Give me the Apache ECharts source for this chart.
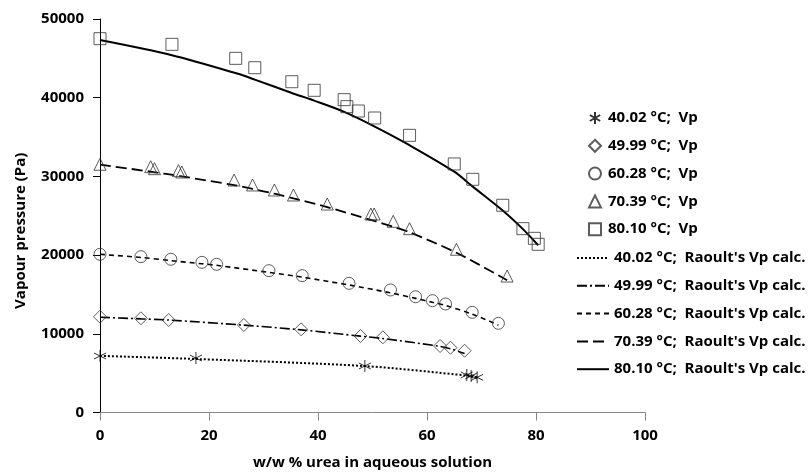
<!DOCTYPE html>
<html>
<head>
<meta charset="utf-8">
<script src="https://cdn.jsdelivr.net/npm/echarts@6/dist/echarts.min.js"></script>
<style>html,body{margin:0;padding:0;background:#fff}#c{width:809px;height:472px}</style>
</head>
<body>
<div id="c"></div>
<script>
// ---- data ----
const xTicks = [0, 20, 40, 60, 80, 100];
const yTicks = [0, 10000, 20000, 30000, 40000, 50000];

const vp40x = [0, 17.6, 48.6, 67.3, 68.1, 69.2];
const vp40y = [7180, 6920, 5910, 4770, 4640, 4470];
const vp50x = [0, 7.5, 12.6, 26.4, 36.9, 47.8, 51.9, 62.4, 64.3, 66.9];
const vp50y = [12170, 11970, 11750, 11120, 10570, 9720, 9550, 8450, 8230, 7850];
const vp60x = [0, 7.5, 13.0, 18.7, 21.4, 31.0, 37.1, 45.7, 53.3, 57.9, 61.0, 63.4, 68.3, 73.1];
const vp60y = [20100, 19800, 19470, 19080, 18830, 18020, 17390, 16410, 15570, 14710, 14210, 13790, 12730, 11330];
const vp70x = [0, 9.3, 10.0, 14.4, 15.0, 24.6, 28.0, 32.0, 35.5, 41.7, 49.7, 50.3, 53.8, 56.8, 65.4, 74.7];
const vp70y = [31540, 31230, 30980, 30730, 30560, 29540, 28910, 28270, 27640, 26490, 25220, 25220, 24290, 23360, 20740, 17340];
const vp80x = [0, 13.2, 24.9, 28.4, 35.2, 39.3, 44.8, 45.3, 47.4, 50.4, 56.8, 65.0, 68.4, 73.9, 77.6, 79.7, 80.4];
const vp80y = [47500, 46780, 45000, 43810, 42030, 40940, 39750, 38860, 38310, 37420, 35220, 31580, 29630, 26330, 23360, 22130, 21370];

const calc40x = [0, 17.6, 48.6, 67.3, 68.1, 69.2];
const calc40y = [7200, 6800, 5900, 4700, 4600, 4450];
const calc50x = [0, 7.5, 12.6, 26.4, 36.9, 47.8, 51.9, 62.4, 64.3, 66.9];
const calc50y = [12100, 11900, 11750, 11100, 10500, 9700, 9400, 8400, 8100, 7500];
const calc60x = [0, 7.5, 13.0, 18.7, 21.4, 31.0, 37.1, 45.7, 53.3, 57.9, 61.0, 63.4, 68.3, 73.1];
const calc60y = [20100, 19700, 19300, 18900, 18700, 17800, 17200, 16200, 15200, 14500, 14000, 13600, 12500, 11100];
const calc70x = [0, 9.3, 15.0, 24.6, 28.0, 32.0, 35.5, 41.7, 50.0, 53.8, 56.8, 65.4, 74.7];
const calc70y = [31500, 30600, 30000, 28900, 28400, 27800, 27200, 26100, 24400, 23600, 22900, 20300, 16800];
const calc80x = [0, 13.2, 25.0, 28.4, 35.2, 39.4, 44.8, 50.5, 56.7, 65.0, 68.4, 74.0, 77.6, 80.4];
const calc80y = [47330, 45400, 43100, 42300, 40600, 39600, 38200, 36300, 34000, 30600, 28700, 25600, 23300, 21250];

const scatterNames = ['40.02 °C;  Vp', '49.99 °C;  Vp', '60.28 °C;  Vp', '70.39 °C;  Vp', '80.10 °C;  Vp'];
const lineNames = ["40.02 °C;  Raoult's Vp calc.", "49.99 °C;  Raoult's Vp calc.", "60.28 °C;  Raoult's Vp calc.", "70.39 °C;  Raoult's Vp calc.", "80.10 °C;  Raoult's Vp calc."];

const zip = (xs, ys) => xs.map((x, i) => [x, ys[i]]);
const FONT = 'Open Sans';
const starPath = 'path://M5,0L5,10M0.7,2.5L9.3,7.5M0.7,7.5L9.3,2.5';

const mk = (name, xs, ys, symbol, size, col) => ({
  name, type: 'scatter', data: zip(xs, ys), symbol, symbolSize: size, z: 3,
  itemStyle: { color: 'rgba(255,255,255,0)', borderColor: col || '#333', borderWidth: 1 }
});
const ln = (name, xs, ys, type, width) => ({
  name, type: 'line', data: zip(xs, ys), symbol: 'circle', showSymbol: false, smooth: 0.3, z: 2,
  lineStyle: { color: '#000', width, type, cap: 'butt' }, itemStyle: { color: '#000' }
});

const chart = echarts.init(document.getElementById('c'), null, { renderer: 'canvas' });
chart.setOption({
  animation: false,
  backgroundColor: '#fff',
  grid: { left: 100, right: 164, top: 19, bottom: 59.5, containLabel: false, outerBoundsMode: 'none' },
  xAxis: {
    type: 'value', min: xTicks[0], max: xTicks[xTicks.length - 1], interval: 20,
    name: 'w/w % urea in aqueous solution', nameLocation: 'middle', nameGap: 43,
    nameTextStyle: { fontFamily: FONT, fontWeight: 'bold', fontSize: 15, color: '#000' },
    axisLine: { show: true, lineStyle: { color: '#868686', width: 1 } },
    axisTick: { show: true, length: 8, lineStyle: { color: '#868686' } },
    axisLabel: { margin: 16, fontFamily: FONT, fontWeight: 'bold', fontSize: 15, color: '#000' },
    splitLine: { show: false }
  },
  yAxis: {
    type: 'value', min: yTicks[0], max: yTicks[yTicks.length - 1], interval: 10000,
    name: 'Vapour pressure (Pa)', nameLocation: 'middle', nameGap: 72,
    nameTextStyle: { fontFamily: FONT, fontWeight: 'bold', fontSize: 15, color: '#000', padding: [0, 30, 0, 0] },
    axisLine: { show: true, lineStyle: { color: '#000', width: 1 } },
    axisTick: { show: true, length: 7, lineStyle: { color: '#000' } },
    axisLabel: { margin: 16, fontFamily: FONT, fontWeight: 'bold', fontSize: 15, color: '#000', formatter: v => String(v) },
    splitLine: { show: false }
  },
  legend: [
    {
      data: scatterNames, orient: 'vertical', left: 583, top: 105, itemWidth: 12, itemHeight: 12,
      itemGap: 11.8, selectedMode: false,
      textStyle: { fontFamily: FONT, fontWeight: 'bold', fontSize: 15, color: '#000', lineHeight: 16, padding: [0, 0, 0, 2] }
    },
    {
      data: lineNames, orient: 'vertical', left: 571, top: 245, itemWidth: 32, itemHeight: 12,
      itemGap: 11.8, selectedMode: false,
      itemStyle: { color: 'rgba(0,0,0,0)', borderColor: 'rgba(0,0,0,0)', borderWidth: 0 },
      textStyle: { fontFamily: FONT, fontWeight: 'bold', fontSize: 15, color: '#000', lineHeight: 16 }
    }
  ],
  series: [
    mk(scatterNames[0], vp40x, vp40y, starPath, 12, '#000'),
    mk(scatterNames[1], vp50x, vp50y, 'diamond', [13, 13]),
    mk(scatterNames[2], vp60x, vp60y, 'circle', 12),
    mk(scatterNames[3], vp70x, vp70y, 'triangle', 12),
    mk(scatterNames[4], vp80x, vp80y, 'rect', 12),
    ln(lineNames[0], calc40x, calc40y, [2, 2], 2),
    ln(lineNames[1], calc50x, calc50y, [10, 3, 2, 3], 1.6),
    ln(lineNames[2], calc60x, calc60y, [5, 4], 1.6),
    ln(lineNames[3], calc70x, calc70y, [11, 5], 1.8),
    ln(lineNames[4], calc80x, calc80y, 'solid', 2)
  ]
});
</script>
</body>
</html>
